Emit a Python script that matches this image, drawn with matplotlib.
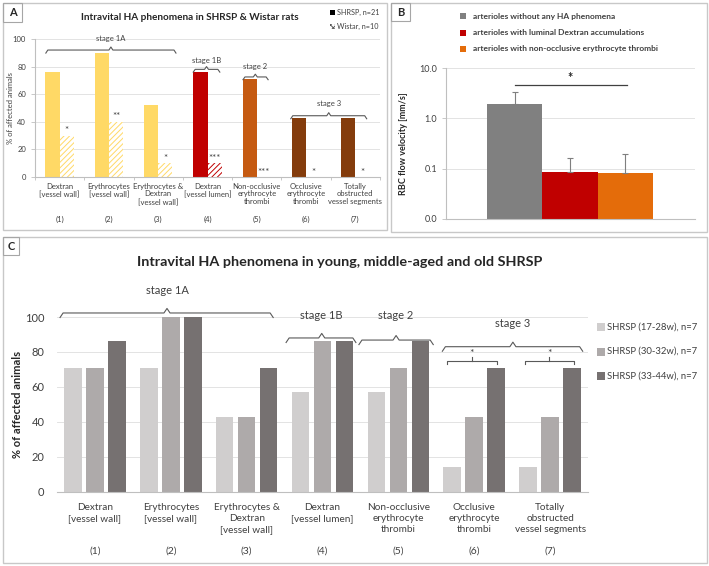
import matplotlib.pyplot as plt
from matplotlib.patches import Rectangle
from matplotlib.ticker import FixedLocator, FuncFormatter, NullLocator

plt.rcParams['font.family'] = ['Lato', 'DejaVu Sans']
plt.rcParams['hatch.linewidth'] = 0.7

W, H = 709, 566
TXT = '#404040'

# --- data: panel A (SHRSP vs Wistar) ---
cats = ["Dextran\n[vessel wall]", "Erythrocytes\n[vessel wall]",
        "Erythrocytes &\nDextran\n[vessel wall]", "Dextran\n[vessel lumen]",
        "Non-occlusive\nerythrocyte\nthrombi", "Occlusive\nerythrocyte\nthrombi",
        "Totally\nobstructed\nvessel segments"]
nums = ["(1)", "(2)", "(3)", "(4)", "(5)", "(6)", "(7)"]
shrsp_a = [76, 90, 52, 76, 71, 43, 43]
wistar_a = [30, 40, 10, 10, 0, 0, 0]
stars_a = ["*", "**", "*", "***", "***", "*", "*"]
colors_a = ['#FFD966', '#FFD966', '#FFD966', '#C00000', '#C55A11', '#843C0C', '#843C0C']

# --- data: panel B (RBC velocity) ---
groups_b = ["arterioles without any HA phenomena",
            "arterioles with luminal Dextran accumulations",
            "arterioles with non-occlusive erythrocyte thrombi"]
vel_b = [1.89, 0.086, 0.082]
err_b = [1.51, 0.076, 0.113]
colors_b = ['#808080', '#C00000', '#E46C0A']

# --- data: panel C (age groups) ---
ages = ["SHRSP (17-28w), n=7", "SHRSP (30-32w), n=7", "SHRSP (33-44w), n=7"]
young = [71, 71, 43, 57, 57, 14, 14]
middle = [71, 100, 43, 86, 71, 43, 43]
old = [86, 100, 71, 86, 86, 71, 71]
colors_c = ['#D0CECE', '#AEAAAA', '#767171']


def rect(x0, y0, x1, y1):
    return [x0 / W, 1 - y1 / H, (x1 - x0) / W, (y1 - y0) / H]


def ftext(px, py, s, **kw):
    fig.text(px / W, 1 - py / H, s, **kw)


def frame(x0, y0, x1, y1, **kw):
    fig.add_artist(Rectangle((x0 / W, 1 - y1 / H), (x1 - x0) / W, (y1 - y0) / H,
                             transform=fig.transFigure, **kw))


def brace(ax, x0, x1, y, h, xm, dx=0.04):
    xs = [x0, x0 + dx, xm - dx, xm, xm + dx, x1 - dx, x1]
    ys = [y - h, y, y, y + h, y, y, y - h]
    ax.plot(xs, ys, color='#595959', lw=0.8, clip_on=False)


def clean(ax):
    for s in ['top', 'right', 'left']:
        ax.spines[s].set_visible(False)
    ax.spines['bottom'].set_color('#BFBFBF')
    ax.set_axisbelow(True)
    ax.yaxis.grid(True, color='#E3E3E3', lw=0.7)


fig = plt.figure(figsize=(W / 100, H / 100), dpi=100)

# panel frames
frame(3, 3, 387, 230, fill=False, ec='#C8C8C8', lw=1)
frame(391, 3, 707, 232, fill=False, ec='#C8C8C8', lw=1)
frame(3, 237, 707, 563, fill=False, ec='#C8C8C8', lw=1)
for (x0, y0, x1, y1, lab) in [(3, 3, 22, 22, 'A'), (391, 3, 410, 21, 'B'), (3, 237, 19, 255, 'C')]:
    frame(x0, y0, x1, y1, fill=False, ec='#A6A6A6', lw=0.8)
    ftext((x0 + x1) / 2, (y0 + y1) / 2, lab, ha='center', va='center',
          fontsize=8, fontweight='bold', color='#262626')

# ---------------- Panel A ----------------
axA = fig.add_axes(rect(35, 39, 380, 177))
clean(axA)
axA.spines['left'].set_visible(True)
axA.spines['left'].set_color('#BFBFBF')
x = list(range(len(cats)))
bw = 0.287
axA.bar([i - bw / 2 for i in x], shrsp_a, width=bw, color=colors_a, lw=0)
axA.bar([i + bw / 2 for i in x], wistar_a, width=bw, color='white',
        edgecolor=colors_a, hatch='//////', lw=0)
for i in x:
    axA.text(i + bw / 2, wistar_a[i] + 3.5, stars_a[i], ha='center', va='center',
             fontsize=7, color=TXT)
axA.set_xlim(-0.5, 6.5)
axA.set_ylim(0, 100)
axA.set_yticks([0, 20, 40, 60, 80, 100])
axA.tick_params(axis='y', labelsize=5.5, colors='#BFBFBF', labelcolor=TXT, length=3, width=0.6)
axA.set_xticks(x)
axA.set_xticklabels(cats, fontsize=5.5, color=TXT, linespacing=1.15)
axA.tick_params(axis='x', length=0, pad=4)
axA.xaxis.set_minor_locator(FixedLocator([i - 0.5 for i in range(8)]))
axA.tick_params(axis='x', which='minor', length=2.5, color='#BFBFBF', width=0.6)
for i in x:
    axA.text(i, -0.304, nums[i], transform=axA.get_xaxis_transform(),
             ha='center', va='center', fontsize=5.5, color=TXT)
axA.set_ylabel("% of affected animals", fontsize=5.5, color=TXT)
axA.yaxis.set_label_coords(-0.061, 0.5)
brace(axA, -0.28, 2.36, 92, 2.2, 1.04)
axA.text(1.04, 100.5, "stage 1A", ha='center', va='center', fontsize=5.5, color=TXT)
brace(axA, 2.71, 3.25, 78, 2.0, 2.98)
axA.text(2.98, 84.5, "stage 1B", ha='center', va='center', fontsize=5.5, color=TXT)
brace(axA, 3.72, 4.23, 72.5, 2.0, 3.97)
axA.text(3.97, 80, "stage 2", ha='center', va='center', fontsize=5.5, color=TXT)
brace(axA, 4.69, 6.23, 44.4, 2.2, 5.46)
axA.text(5.46, 53.5, "stage 3", ha='center', va='center', fontsize=5.5, color=TXT)
ftext(190, 18, "Intravital HA phenomena in SHRSP & Wistar rats", ha='center', va='center',
      fontsize=7.2, fontweight='bold', color='#262626')
# legend A
frame(330, 9.5, 335, 14.5, color='black', lw=0)
ftext(337, 12, "SHRSP, n=21", ha='left', va='center', fontsize=5.2, color=TXT)
frame(330, 23.5, 335, 28.5, fc='white', ec='#595959', hatch='xxxxxx', lw=0)
ftext(337, 26, "Wistar, n=10", ha='left', va='center', fontsize=5.2, color=TXT)

# ---------------- Panel B ----------------
axB = fig.add_axes(rect(446, 68, 695, 219))
clean(axB)
axB.spines['left'].set_visible(True)
axB.spines['left'].set_color('#BFBFBF')
axB.set_yscale('log')
xb = [0, 1, 2]
axB.bar(xb, vel_b, width=1.0, color=colors_b, lw=0)
axB.errorbar(xb, vel_b, yerr=[[0, 0, 0], err_b], fmt='none', ecolor='#7F7F7F',
             elinewidth=0.8, capsize=2.5, capthick=0.8)
axB.set_xlim(-1.24, 3.26)
axB.set_ylim(0.01, 10)
axB.yaxis.set_major_locator(FixedLocator([0.01, 0.1, 1, 10]))
axB.yaxis.set_minor_locator(NullLocator())
axB.yaxis.set_major_formatter(FuncFormatter(lambda v, p: f"{v:.1f}"))
axB.tick_params(axis='y', labelsize=6.5, colors='#BFBFBF', labelcolor=TXT, length=3, width=0.6)
axB.set_xticks([])
axB.set_ylabel("RBC flow velocity [mm/s]", fontsize=6.5, fontweight='bold', color='#262626')
axB.yaxis.set_label_coords(-0.153, 0.5)
axB.plot([0, 2.03], [4.5, 4.5], color='#404040', lw=0.9)
axB.text(1, 6.3, "*", ha='center', va='center', fontsize=9, fontweight='bold', color='#262626')
for k, (g, c) in enumerate(zip(groups_b, colors_b)):
    yy = 16 + k * 16.5
    frame(460, yy - 3, 466, yy + 3, color=c, lw=0)
    ftext(473, yy, g, ha='left', va='center', fontsize=6, fontweight='bold', color=TXT)

# ---------------- Panel C ----------------
axC = fig.add_axes(rect(57, 317, 588, 491.7))
clean(axC)
step, cw = 0.29, 0.23
for k, (vals, c) in enumerate(zip([young, middle, old], colors_c)):
    axC.bar([i + (k - 1) * step for i in x], vals, width=cw, color=c, lw=0, label=ages[k])
axC.set_xlim(-0.5, 6.5)
axC.set_ylim(0, 100)
axC.set_yticks([0, 20, 40, 60, 80, 100])
axC.tick_params(axis='y', labelsize=8, labelcolor=TXT, length=0, pad=9)
axC.set_xticks(x)
axC.set_xticklabels(cats, fontsize=7.2, color=TXT, linespacing=1.3)
axC.tick_params(axis='x', length=0, pad=8)
for i in x:
    axC.text(i, -0.338, nums[i], transform=axC.get_xaxis_transform(),
             ha='center', va='center', fontsize=7.5, color=TXT)
axC.set_ylabel("% of affected animals", fontsize=8, fontweight='bold', color='#262626')
axC.yaxis.set_label_coords(-0.064, 0.5)
brace(axC, -0.46, 2.35, 102.3, 2.6, 0.95)
axC.text(0.95, 115, "stage 1A", ha='center', va='center', fontsize=8, color=TXT)
brace(axC, 2.52, 3.44, 88, 2.6, 2.99)
axC.text(2.99, 101, "stage 1B", ha='center', va='center', fontsize=8, color=TXT)
brace(axC, 3.48, 4.46, 86.8, 2.6, 3.97)
axC.text(3.97, 101, "stage 2", ha='center', va='center', fontsize=8, color=TXT)
brace(axC, 4.58, 6.43, 83, 2.6, 5.51)
axC.text(5.51, 96.5, "stage 3", ha='center', va='center', fontsize=8, color=TXT)
for (a, b, m) in [(4.64, 5.30, 4.97), (5.67, 6.32, 5.99)]:
    axC.plot([a, a, b, b], [73, 75, 75, 73], color='#595959', lw=0.8)
    axC.plot([m, m], [75, 77], color='#595959', lw=0.8)
    axC.text(m, 79, "*", ha='center', va='center', fontsize=7.5, color=TXT)
ftext(340, 262, "Intravital HA phenomena in young, middle-aged and old SHRSP", ha='center',
      va='center', fontsize=10.4, fontweight='bold', color='#262626')
for k, (g, c) in enumerate(zip(ages, colors_c)):
    yy = 327 + k * 24.5
    frame(597, yy - 4, 605, yy + 4, color=c, lw=0)
    ftext(607, yy, g, ha='left', va='center', fontsize=6.8, color=TXT)

fig.savefig("out.png", dpi=100)
